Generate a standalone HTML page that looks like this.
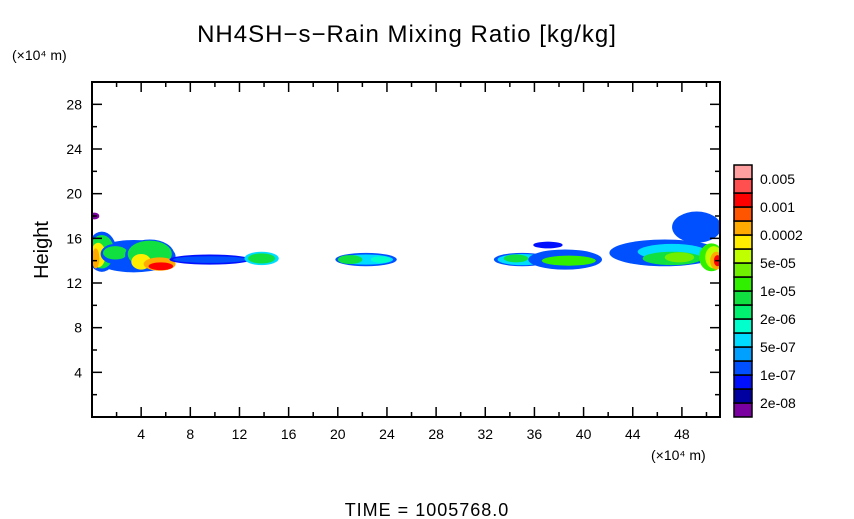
<!DOCTYPE html>
<html><head><meta charset="utf-8"><style>
body{margin:0;background:#fff;}
svg{display:block;font-family:"Liberation Sans",sans-serif;}
</style></head><body>
<svg id="chart" width="854" height="519">
<text x="407" y="42" font-size="24" text-anchor="middle" letter-spacing="1">NH4SH−s−Rain Mixing Ratio [kg/kg]</text>
<text x="12" y="60" font-size="14">(×10⁴ m)</text>
<text x="48" y="250" font-size="20" text-anchor="middle" transform="rotate(-90 48 250)">Height</text>
<text x="651" y="460" font-size="14">(×10⁴ m)</text>
<text x="427" y="516" font-size="18" text-anchor="middle" letter-spacing="1">TIME = 1005768.0</text>
<defs><clipPath id="pc"><rect x="92" y="82" width="628" height="335"/></clipPath></defs>
<g id="blobs" clip-path="url(#pc)"></g>
<g id="axes"></g>
<g id="cbar"></g>
</svg>
<script>
const xTicks=[4,8,12,16,20,24,28,32,36,40,44,48];
const yTicks=[4,8,12,16,20,24,28];
const levelColors=["#7a00a0","#0000a0","#0010ff","#0050ff","#00a0ff","#00dcff","#00ffcc","#00f070","#10e040","#30f000","#70f000","#c0ff00","#ffee00","#ffaa00","#ff5500","#ff0000","#ff4f4f","#ff9f9f"];
const levelLabels=["2e-08","1e-07","5e-07","2e-06","1e-05","5e-05","0.0002","0.001","0.005"];
// blobs: [xCenter, yCenter, xRadius, yRadius, colorLevel]
const blobX=[0.2,3.4,0.8,0.8,0.5,0.3,1.9,1.9,4.7,4.7,4.0,5.5,5.6,9.6,9.6,13.8,13.8,22.3,22.3,21.0,23.5,35.0,35.0,34.5,38.5,38.8,37.1,46.6,49.2,47.2,47.2,47.8,50.4,50.6,50.8,50.9];
const blobY=[18.0,14.4,14.8,14.8,14.5,14.2,14.6,14.7,14.5,14.6,13.9,13.7,13.5,14.1,14.1,14.2,14.2,14.1,14.1,14.1,14.1,14.1,14.1,14.2,14.1,14.0,15.4,14.7,17.0,14.8,14.2,14.3,14.3,14.3,14.0,14.0];
const blobRX=[0.4,3.4,1.2,1.0,0.6,0.3,1.2,1.0,2.0,1.8,0.8,1.3,1.0,3.3,3.0,1.4,1.1,2.5,2.2,1.0,0.8,2.3,2.0,1.0,3.0,2.2,1.2,4.5,2.0,2.8,2.4,1.2,1.0,0.7,0.5,0.3];
const blobRY=[0.3,1.45,1.8,1.5,1.1,0.9,0.9,0.6,1.4,1.2,0.7,0.6,0.35,0.45,0.3,0.6,0.45,0.6,0.45,0.4,0.3,0.6,0.5,0.35,0.9,0.45,0.3,1.2,1.4,0.7,0.6,0.45,1.25,1.0,0.8,0.5];
const blobLevel=[0,3,3,8,12,13,3,8,3,8,12,13,15,2,3,5,8,3,5,8,6,3,5,8,3,9,2,3,3,5,8,10,9,11,13,15];
const ns="http://www.w3.org/2000/svg";
const X0=92,X1=720,Y0=417,Y1=82,XMAX=51.1,YMAX=30;
const sx=v=>X0+v/XMAX*(X1-X0), sy=v=>Y0-v/YMAX*(Y0-Y1);
const bg=document.getElementById('blobs');
for(let i=0;i<blobX.length;i++){
  const e=document.createElementNS(ns,'ellipse');
  
  
  e.setAttribute('cx',sx(blobX[i]));e.setAttribute('cy',sy(blobY[i]));
  e.setAttribute('rx',blobRX[i]/XMAX*(X1-X0));e.setAttribute('ry',blobRY[i]/YMAX*(Y0-Y1));
  e.setAttribute('fill',levelColors[blobLevel[i]]);
  bg.appendChild(e);
}
const ax=document.getElementById('axes');
function line(x1,y1,x2,y2,w,name){const l=document.createElementNS(ns,'line');


l.setAttribute('x1',x1);l.setAttribute('y1',y1);l.setAttribute('x2',x2);l.setAttribute('y2',y2);l.setAttribute('stroke','#000');l.setAttribute('stroke-width',w);ax.appendChild(l);}
function text(x,y,s,anchor,name,g){const t=document.createElementNS(ns,'text');


t.setAttribute('x',x);t.setAttribute('y',y);t.setAttribute('font-size','14');t.setAttribute('text-anchor',anchor);t.textContent=s;(g||ax).appendChild(t);}
const r=document.createElementNS(ns,'rect');


r.setAttribute('x',X0);r.setAttribute('y',Y1);r.setAttribute('width',X1-X0);r.setAttribute('height',Y0-Y1);r.setAttribute('fill','none');r.setAttribute('stroke','#000');r.setAttribute('stroke-width','2');ax.appendChild(r);
for(let v=2;v<XMAX;v+=2){const big=v%4==0;const x=sx(v);
line(x,Y0,x,Y0-(big?10:5),1.5,'x-tick');line(x,Y1,x,Y1+(big?10:5),1.5,'x-tick-top');}
for(let v=2;v<YMAX;v+=2){const big=v%4==0;const y=sy(v);
line(X0,y,X0+(big?10:5),y,1.5,'y-tick');line(X1,y,X1-(big?10:5),y,1.5,'y-tick-right');}
xTicks.forEach(v=>text(sx(v),439,String(v),'middle','x-tick-label'));
yTicks.forEach(v=>text(82,sy(v)+5,String(v),'end','y-tick-label'));
const cb=document.getElementById('cbar');
const cTop=165,cBot=417,cx=734,cw=18,h=(cBot-cTop)/levelColors.length;
levelColors.forEach((c,i)=>{const rr=document.createElementNS(ns,'rect');


rr.setAttribute('x',cx);rr.setAttribute('y',cBot-(i+1)*h);rr.setAttribute('width',cw);rr.setAttribute('height',h);rr.setAttribute('fill',c);rr.setAttribute('stroke','#000');rr.setAttribute('stroke-width','1.5');cb.appendChild(rr);});
levelLabels.forEach((s,i)=>text(760,cBot-(2*i+1)*h+5,s,'start','colorbar-label',cb));
</script>
</body></html>
